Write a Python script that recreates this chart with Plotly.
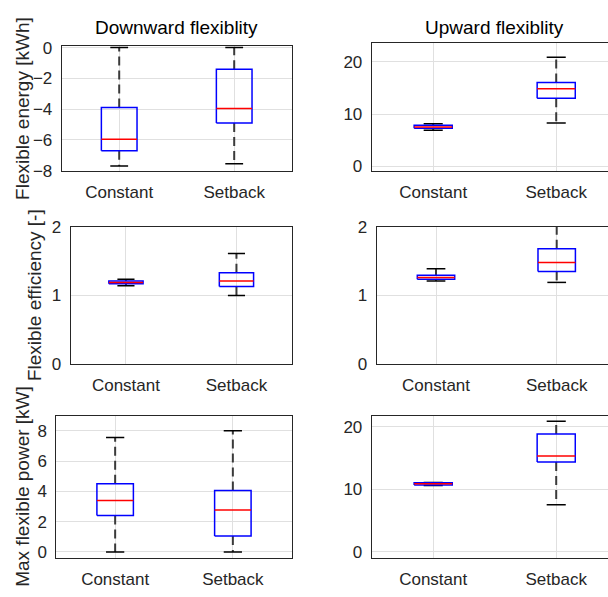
import plotly.graph_objects as go

categories = ["Constant", "Setback"]
positions = [1, 2]

# stats per category: [lower whisker, Q1, median, Q3, upper whisker]
energy_down = [[-7.7, -6.7, -5.95, -3.9, 0.0], [-7.55, -4.9, -3.95, -1.4, 0.0]]
energy_up = [[6.9, 7.3, 7.55, 7.85, 8.15], [8.3, 13.0, 14.8, 16.0, 20.8]]
eff_down = [[1.14, 1.17, 1.19, 1.21, 1.235], [1.0, 1.13, 1.21, 1.33, 1.61]]
eff_up = [[1.21, 1.235, 1.26, 1.295, 1.39], [1.19, 1.35, 1.48, 1.68, 2.1]]
power_down = [[0.0, 2.4, 3.4, 4.5, 7.55], [0.0, 1.05, 2.76, 4.06, 8.0]]
power_up = [[10.6, 10.7, 10.9, 11.05, 11.1], [7.55, 14.37, 15.35, 18.87, 20.9]]

col_titles = ["Downward flexiblity", "Upward flexiblity"]
row_labels = ["Flexible energy [kWh]", "Flexible efficiency [-]", "Max flexible power [kW]"]

W, H = 608, 597
FONT = "Liberation Sans, Arial, sans-serif"
TXT = "#262626"
GRID = "#e0e0e0"
BOXW = 0.31


def xd(a, b):
    return [a / W, min(b / W, 1.0)]


def yd(top, bottom):
    return [1 - bottom / H, 1 - top / H]


panels = [
    dict(stats=energy_down, xdom=xd(61.7, 291.7), ydom=yd(38.3, 167.0), xr=[0.5, 2.5], yr=[-8.0, 0.1], tv=[-8, -6, -4, -2, 0], right=False),
    dict(stats=energy_up, xdom=xd(371.7, 608), ydom=yd(35.0, 167.3), xr=[0.5, 2.421], yr=[-0.85, 23.56], tv=[0, 10, 20], right=True),
    dict(stats=eff_down, xdom=xd(70.7, 291.7), ydom=yd(225.0, 366.7), xr=[0.5, 2.5], yr=[0, 2], tv=[0, 1, 2], right=False),
    dict(stats=eff_up, xdom=xd(376.5, 608), ydom=yd(225.0, 366.7), xr=[0.507, 2.425], yr=[0, 2], tv=[0, 1, 2], right=True),
    dict(stats=power_down, xdom=xd(56.3, 291.7), ydom=yd(420.0, 566.7), xr=[0.5, 2.5], yr=[-0.38, 9.0], tv=[0, 2, 4, 6, 8], right=False),
    dict(stats=power_up, xdom=xd(371.7, 608), ydom=yd(420.0, 566.7), xr=[0.5, 2.421], yr=[-0.93, 21.8], tv=[0, 10, 20], right=True),
]

fig = go.Figure()
layout = {}
for i, p in enumerate(panels):
    n = "" if i == 0 else str(i + 1)
    xa, ya = "x" + n, "y" + n
    for j, s in enumerate(p["stats"]):
        pos = positions[j]
        lo, q1, med, q3, hi = s
        # whiskers (dashed)
        fig.add_trace(go.Scatter(x=[pos, pos, None, pos, pos], y=[q3, hi, None, q1, lo],
                                 mode="lines", line=dict(color="#3a3a3a", width=2, dash="9px,5px"),
                                 xaxis=xa, yaxis=ya, showlegend=False, hoverinfo="skip"))
        # caps
        cw = BOXW / 4
        fig.add_trace(go.Scatter(x=[pos - cw, pos + cw, None, pos - cw, pos + cw], y=[hi, hi, None, lo, lo],
                                 mode="lines", line=dict(color="#000000", width=1.5),
                                 xaxis=xa, yaxis=ya, showlegend=False, hoverinfo="skip"))
        # box
        bw = BOXW / 2
        fig.add_trace(go.Scatter(x=[pos - bw, pos + bw, pos + bw, pos - bw, pos - bw], y=[q1, q1, q3, q3, q1],
                                 mode="lines", line=dict(color="#0000ff", width=1.5),
                                 xaxis=xa, yaxis=ya, showlegend=False, hoverinfo="skip"))
        # median
        fig.add_trace(go.Scatter(x=[pos - bw, pos + bw], y=[med, med],
                                 mode="lines", line=dict(color="#ff0000", width=1.5),
                                 xaxis=xa, yaxis=ya, showlegend=False, hoverinfo="skip"))
    layout["xaxis" + n] = dict(domain=p["xdom"], anchor=ya, range=p["xr"], tickvals=positions,
                               ticktext=categories, showgrid=True, gridcolor=GRID, zeroline=False,
                               showline=True, linecolor=TXT, linewidth=1, mirror=True,
                               ticks="", ticklabelstandoff=6,
                               tickfont=dict(family=FONT, size=17, color=TXT))
    layout["yaxis" + n] = dict(domain=p["ydom"], anchor=xa, range=p["yr"], tickvals=p["tv"],
                               showgrid=True, gridcolor=GRID, zeroline=False,
                               showline=True, linecolor=TXT, linewidth=1, mirror=not p["right"],
                               ticks="", ticklabelstandoff=5,
                               tickfont=dict(family=FONT, size=17, color=TXT))

annotations = [
    dict(text=col_titles[0], x=176.7 / W, y=1 - 19 / H, xref="paper", yref="paper",
         xanchor="center", yanchor="middle", showarrow=False, font=dict(family=FONT, size=19, color="#000")),
    dict(text=col_titles[1], x=494.7 / W, y=1 - 19 / H, xref="paper", yref="paper",
         xanchor="center", yanchor="middle", showarrow=False, font=dict(family=FONT, size=19, color="#000")),
]
label_pos = [(22.5, 102.7), (34.5, 296.0), (22.5, 493.0)]
for lbl, (lx, ly) in zip(row_labels, label_pos):
    annotations.append(dict(text=lbl, x=lx / W, y=1 - ly / H, xref="paper", yref="paper",
                            xanchor="center", yanchor="middle", textangle=-90, showarrow=False,
                            font=dict(family=FONT, size=19, color=TXT)))

fig.update_layout(width=W, height=H, margin=dict(l=0, r=0, t=0, b=0),
                  paper_bgcolor="white", plot_bgcolor="white",
                  annotations=annotations, **layout)
fig.write_html("out.html")
